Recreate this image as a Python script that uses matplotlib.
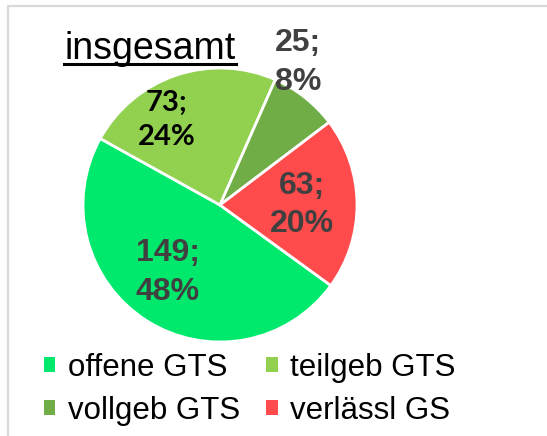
"""
Pie chart: Ganztagsschulen insgesamt.
"""

import matplotlib.pyplot as plt
from matplotlib.patches import Patch, Rectangle
from matplotlib.lines import Line2D

categories = ["offene GTS", "teilgeb GTS", "vollgeb GTS", "verlässl GS"]
counts = [149, 73, 25, 63]
percents = [48, 24, 8, 20]
colors = ["#00E96D", "#92D050", "#70AD47", "#FF4B4B"]
label_colors = ["#404040", "#000000", "#404040", "#404040"]
label_fonts = ["Liberation Sans", "Lato", "Liberation Sans", "Liberation Sans"]
label_sizes = [23, 21, 23, 23]
# label positions in units of the pie radius
label_pos = [(-0.38, -0.49), (-0.39, 0.62), (0.57, 1.04), (0.60, 0.0)]

plt.rcParams["font.family"] = ["Liberation Sans", "DejaVu Sans"]

fig = plt.figure(figsize=(5.47, 4.36), dpi=100)

# light grey frame (left and top visible)
fig.patches.append(Rectangle((8 / 547, -0.1), 1.2, (436 - 6) / 436 + 0.1,
                             transform=fig.transFigure, fill=False,
                             edgecolor="#D9D9D9", linewidth=1.6))

ax = fig.add_axes([83 / 547, (436 - 342) / 436, 274 / 547, 274 / 436])
wedges, _ = ax.pie(counts, colors=colors, startangle=-36, counterclock=False,
                   radius=1, wedgeprops=dict(edgecolor="white", linewidth=2))
ax.set_xlim(-1, 1)
ax.set_ylim(-1, 1)
ax.set_aspect("equal")
ax.axis("off")

for c, p, (x, y), col, fam, fs in zip(counts, percents, label_pos, label_colors,
                                       label_fonts, label_sizes):
    ax.text(x, y, f"{c};\n{p}%", ha="center", va="center", color=col,
            fontsize=fs, fontweight="bold", family=fam, linespacing=1.38,
            clip_on=False)

# title with underline
title = fig.text(150 / 547, (436 - 59) / 436, "insgesamt", ha="center",
                 va="baseline", fontsize=27, color="black")
fig.canvas.draw()
bb = title.get_window_extent().transformed(fig.transFigure.inverted())
uy = (436 - 64) / 436
fig.lines.append(Line2D([bb.x0, bb.x1], [uy, uy], transform=fig.transFigure,
                        color="black", linewidth=2.2))

# legend fills column-wise, so reorder to get row-wise reading order
order = [0, 2, 1, 3]
handles = [Patch(facecolor=colors[i], edgecolor="none") for i in order]
labels = [categories[i] for i in order]
fig.legend(handles, labels, loc="upper left",
           bbox_to_anchor=(44 / 547, (436 - 353) / 436), ncol=2, frameon=False,
           fontsize=22.5, handlelength=0.36, handleheight=0.36,
           handletextpad=0.4, columnspacing=0.85, labelspacing=0.42,
           borderpad=0, borderaxespad=0)

plt.savefig("out.png", dpi=100)
plt.close()
